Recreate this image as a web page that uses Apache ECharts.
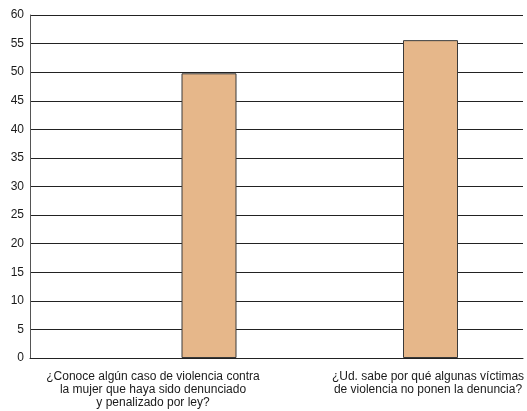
<!DOCTYPE html>
<html>
<head>
<meta charset="utf-8">
<script src="https://cdn.jsdelivr.net/npm/echarts@6/dist/echarts.min.js"></script>
<style>
html,body{margin:0;padding:0;background:#fff;}
#chart{width:527px;height:411px;}
</style>
</head>
<body>
<div id="chart"></div>
<script>
const categories = [
  "¿Conoce algún caso de violencia contra\nla mujer que haya sido denunciado\ny penalizado por ley?",
  "¿Ud. sabe por qué algunas víctimas\nde violencia no ponen la denuncia?"
];
const values = [49.8, 55.6];
const yMin = 0, yMax = 60, yStep = 5;

const FONT = '"Liberation Sans", Arial, Helvetica, sans-serif';
const chart = echarts.init(document.getElementById('chart'), null, {renderer: 'canvas'});
const gridBox = {top: 15, height: 343, outerBoundsMode: 'none', containLabel: false};
chart.setOption({
  animation: false,
  backgroundColor: '#ffffff',
  grid: [
    Object.assign({left: 30, width: 493}, gridBox),
    Object.assign({left: 209, width: 221.5}, gridBox),
    Object.assign({left: 153, width: 275}, gridBox)
  ],
  xAxis: [
    {gridIndex: 0, type: 'category', data: categories,
     axisLine: {show: true, lineStyle: {color: '#222', width: 1}},
     axisTick: {show: false}, axisLabel: {show: false}, splitLine: {show: false}},
    {gridIndex: 1, type: 'category', data: categories, boundaryGap: false,
     axisLine: {show: false}, axisTick: {show: false}, axisLabel: {show: false}, splitLine: {show: false}},
    {gridIndex: 2, type: 'category', data: categories, boundaryGap: false,
     axisLine: {show: false}, axisTick: {show: false}, splitLine: {show: false},
     axisLabel: {show: true, interval: 0, margin: 12, fontSize: 12, lineHeight: 13,
                 fontFamily: FONT, color: '#1a1a1a', align: 'center'}}
  ],
  yAxis: [
    {gridIndex: 0, type: 'value', min: yMin, max: yMax, interval: yStep,
     axisLine: {show: true, lineStyle: {color: '#555', width: 1}},
     axisTick: {show: false},
     axisLabel: {fontSize: 12, fontFamily: FONT, color: '#1a1a1a', margin: 6},
     splitLine: {show: true, lineStyle: {color: '#222', width: 1}}},
    {gridIndex: 1, type: 'value', min: yMin, max: yMax, interval: yStep, show: false},
    {gridIndex: 2, type: 'value', min: yMin, max: yMax, interval: yStep, show: false}
  ],
  series: [{
    type: 'bar',
    xAxisIndex: 1, yAxisIndex: 1,
    data: values,
    barWidth: 55,
    clip: false,
    itemStyle: {color: '#E6B78A', borderColor: '#3a3a3a', borderWidth: 1},
    z: 3
  }]
});
</script>
</body>
</html>
